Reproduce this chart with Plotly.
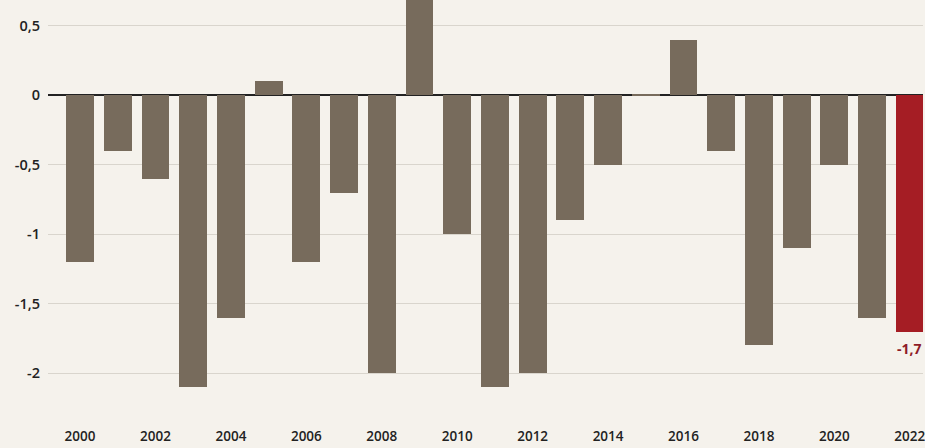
import plotly.graph_objects as go

years = list(range(2000, 2023))
values = [-1.2, -0.4, -0.6, -2.1, -1.6, 0.1, -1.2, -0.7, -2.0, 0.9,
          -1.0, -2.1, -2.0, -0.9, -0.5, 0.01, 0.4, -0.4, -1.8, -1.1,
          -0.5, -1.6, -1.7]
ytick_vals = [0.5, 0, -0.5, -1, -1.5, -2]
ytick_text = ["0,5", "0", "-0,5", "-1", "-1,5", "-2"]
xtick_vals = list(range(2000, 2023, 2))
xtick_text = [str(y) for y in xtick_vals]
last_label = "-1,7"

colors = ["#776b5c"] * (len(years) - 1) + ["#a51d24"]

fig = go.Figure()
fig.add_trace(go.Bar(x=years, y=values, marker=dict(color=colors, line=dict(width=0)),
                     width=0.74, hoverinfo="skip"))

fig.add_annotation(x=years[-1], y=values[-1], text="<b>" + last_label + "</b>",
                   showarrow=False, yanchor="top", xanchor="center", yshift=-5,
                   font=dict(family="Open Sans", size=14, color="#8e1b28"))

fig.update_layout(
    width=925, height=448,
    margin=dict(l=48, r=0, t=0, b=33),
    paper_bgcolor="#f5f2ec", plot_bgcolor="#f5f2ec",
    showlegend=False,
    bargap=0,
    xaxis=dict(range=[1999.15, 2022.35], tickvals=xtick_vals, ticktext=xtick_text,
               showgrid=False, zeroline=False, showline=False, ticks="",
               ticklabelstandoff=11, ticklabeloverflow="allow",
               tickfont=dict(family="Open Sans", size=13.5, color="#222222", weight=600)),
    yaxis=dict(range=[-2.3, 0.685], tickvals=ytick_vals, ticktext=ytick_text,
               showgrid=True, gridcolor="#d9d5cd", gridwidth=1,
               zeroline=True, zerolinecolor="#222222", zerolinewidth=1.5,
               showline=False, ticks="", ticklabelstandoff=7,
               tickfont=dict(family="Open Sans", size=14.5, color="#222222", weight=600)),
)

fig.write_html("out.html")
